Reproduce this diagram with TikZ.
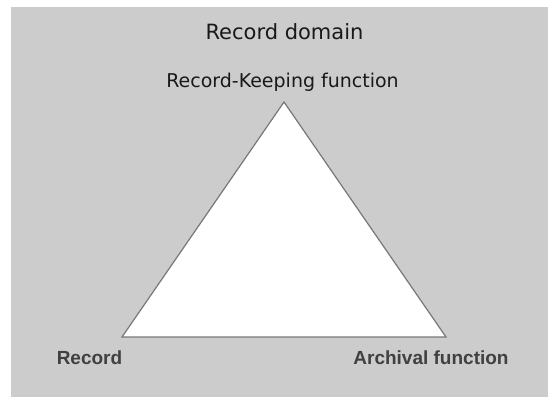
\documentclass[tikz,border=0pt]{standalone}
\usepackage{fontspec}
\setmainfont{DejaVu Sans}
\newfontfamily\cornerfont{Liberation Sans}
\definecolor{panelgray}{HTML}{CCCCCC}
\definecolor{edgegray}{HTML}{777777}

\begin{document}
\begin{tikzpicture}[x=1pt,y=-1pt,
  title/.style={anchor=base,inner sep=0pt,text=black!90,
    font=\fontsize{20}{24}\selectfont},
  corner/.style={anchor=base,inner sep=0pt,text=black!75,
    font=\cornerfont\bfseries\fontsize{19}{23}\selectfont}]

  \useasboundingbox (0,0) rectangle (548,397);
  \fill[panelgray] (11,7) rectangle (548,397);

  \coordinate (top) at (284,102);
  \coordinate (rec) at (122,337);
  \coordinate (arc) at (446,337);
  \filldraw[fill=white,draw=edgegray,line width=1.2pt]
    (top) -- (rec) -- (arc) -- cycle;

  \node[title,font=\fontsize{21}{25}\selectfont] (domain) at (284.5,39)
    {Record domain};
  \node[title,font=\fontsize{19}{23}\selectfont] (keep) at (282.5,87)
    {Record-Keeping function};
  \node[corner] (record) at (89.5,364) {Record};
  \node[corner] (archival) at (431,364) {Archival function};
\end{tikzpicture}
\end{document}
